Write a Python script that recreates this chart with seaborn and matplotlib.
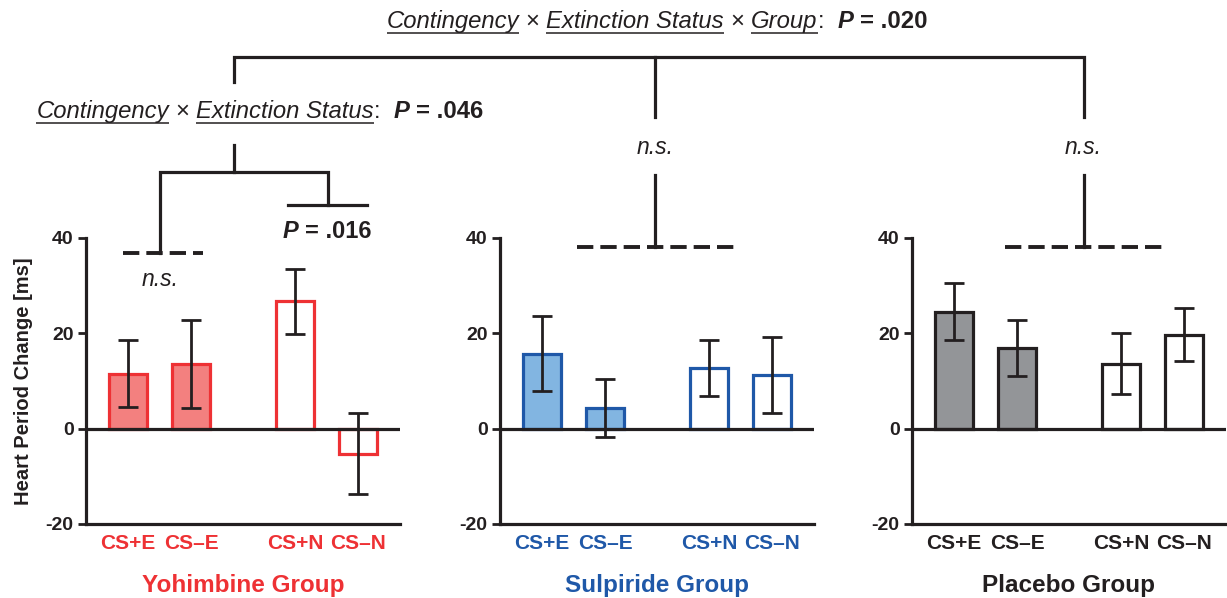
import pandas as pd
import seaborn as sns
import matplotlib.pyplot as plt

# 1. Estilo e dados
sns.set_theme(style="ticks")
plt.rcParams['font.family'] = ['Liberation Sans', 'DejaVu Sans']

DARK = "#231F20"

conds = ["CS+E", "CS–E", "CS+N", "CS–N"]
yoh_mean = [11.5, 13.6, 26.7, -5.3]
yoh_sem = [7.0, 9.3, 6.8, 8.5]
sul_mean = [15.7, 4.3, 12.8, 11.2]
sul_sem = [7.9, 6.1, 5.9, 8.0]
pla_mean = [24.5, 16.9, 13.6, 19.7]
pla_sem = [6.0, 5.9, 6.4, 5.6]
group_names = ["Yohimbine Group", "Sulpiride Group", "Placebo Group"]

# layout (posições das barras, com intervalo entre pares E / N)
bar_x = [0, 1, 2.65, 3.65]

W, H = 1227, 598
fig = plt.figure(figsize=(W / 100, H / 100), dpi=100)


def px_axes(left, right, top, bottom):
    return fig.add_axes([left / W, 1 - bottom / H, (right - left) / W, (bottom - top) / H])


paineis = [
    (group_names[0], yoh_mean, yoh_sem, "#EE3134", "#F3807F", "#EE3134", 86),
    (group_names[1], sul_mean, sul_sem, "#1F58A8", "#82B5E1", "#1F58A8", 500),
    (group_names[2], pla_mean, pla_sem, DARK, "#939598", DARK, 912),
]

# 2. Painéis de barras
for i, (nome, media, erro, borda, preench, cor_txt, esq) in enumerate(paineis):
    ax = px_axes(esq, esq + 314, 238, 524)
    df = pd.DataFrame({"pos": bar_x, "cond": conds, "media": media})
    pal = {conds[0]: preench, conds[1]: preench, conds[2]: "white", conds[3]: "white"}
    sns.barplot(data=df, x="pos", y="media", hue="cond", palette=pal, native_scale=True,
                dodge=False, width=0.6, edgecolor=borda, linewidth=2.3, errorbar=None,
                saturation=1, legend=False, ax=ax, zorder=2)
    ax.errorbar(bar_x, media, yerr=erro, fmt='none', ecolor=DARK, elinewidth=2,
                capsize=7, capthick=2, zorder=4)
    ax.axhline(0, color=DARK, lw=2.3, zorder=5)
    ax.set_xlim(-0.667, 4.32)
    ax.set_ylim(-20, 40)
    ax.set_xticks(bar_x)
    ax.set_xticklabels(conds, color=cor_txt, fontweight='bold', fontsize=15)
    ax.set_yticks([-20, 0, 20, 40])
    ax.set_yticklabels(["-20", "0", "20", "40"], fontweight='bold', fontsize=14, color=DARK)
    ax.tick_params(axis='x', length=0, pad=7)
    ax.tick_params(axis='y', length=6, width=2, color=DARK, pad=3)
    sns.despine(ax=ax)
    for s in ["left", "bottom"]:
        ax.spines[s].set_linewidth(2.3)
        ax.spines[s].set_color(DARK)
    ax.set_xlabel(nome, color=cor_txt, fontweight='bold', fontsize=17.5, labelpad=15)
    if i == 0:
        ax.set_ylabel("Heart Period Change [ms]", fontweight='bold', fontsize=14.5,
                      color=DARK, labelpad=9)
    else:
        ax.set_ylabel("")
    ax.patch.set_alpha(0)

# 3. Camada de anotações (coordenadas em pixels)
ov = fig.add_axes([0, 0, 1, 1], zorder=10)
ov.set_xlim(0, W)
ov.set_ylim(H, 0)
ov.axis("off")
ov.patch.set_alpha(0)

lw = 2.3
solida = dict(color=DARK, lw=lw, solid_capstyle='projecting', solid_joinstyle='miter')
tracejada = dict(color=DARK, lw=2.8, linestyle=(0, (4.2, 1.8)), dash_capstyle='butt')

ov.plot([234, 234, 1084, 1084], [82, 57, 57, 117], **solida)
ov.plot([655, 655], [57, 117], **solida)
ov.plot([655, 655], [175, 247], **solida)
ov.plot([1084, 1084], [175, 247], **solida)
ov.plot([577, 735], [247, 247], **tracejada)
ov.plot([1005, 1163], [247, 247], **tracejada)

ov.plot([234, 234], [145, 172], **solida)
ov.plot([160, 160, 328, 328], [253, 172, 172, 205], **solida)
ov.plot([288, 367], [205, 205], **solida)
ov.plot([123, 203], [253, 253], **tracejada)

for x, y in [(655, 148), (1083, 148), (160, 280)]:
    ov.text(x, y, "n.s.", fontsize=16.5, fontstyle='italic', ha='center', va='center', color=DARK)

render = fig.canvas.get_renderer()


def texto_rico(xc, y, partes, tam):
    tam_px = tam * fig.dpi / 72
    cursor = 0
    colocados = []
    for p in partes:
        if isinstance(p, (int, float)):
            cursor += p * tam_px
            continue
        txt, estilo, peso, sub = p
        t = ov.text(0, y, txt, fontsize=tam, fontstyle=estilo, fontweight=peso,
                    ha='left', va='baseline', color=DARK)
        w = t.get_window_extent(renderer=render).width
        colocados.append((t, cursor, w, sub))
        cursor += w
    x0 = xc - cursor / 2
    for t, off, w, sub in colocados:
        t.set_x(x0 + off)
        if sub:
            ov.plot([x0 + off, x0 + off + w], [y + 0.2 * tam_px] * 2, color=DARK, lw=1.1,
                    solid_capstyle='butt')


ESP = 0.278
texto_rico(657, 28, [("Contingency", 'italic', 'normal', True), ESP, ("×", 'normal', 'normal', False), ESP,
                     ("Extinction Status", 'italic', 'normal', True), ESP, ("×", 'normal', 'normal', False), ESP,
                     ("Group", 'italic', 'normal', True), (":", 'normal', 'normal', False), 2 * ESP,
                     ("P", 'italic', 'bold', False), ESP, ("= .020", 'normal', 'bold', False)], 17.2)
texto_rico(260, 118, [("Contingency", 'italic', 'normal', True), ESP, ("×", 'normal', 'normal', False), ESP,
                      ("Extinction Status", 'italic', 'normal', True), (":", 'normal', 'normal', False), 2 * ESP,
                      ("P", 'italic', 'bold', False), ESP, ("= .046", 'normal', 'bold', False)], 17.2)
texto_rico(327, 238, [("P", 'italic', 'bold', False), ESP, ("= .016", 'normal', 'bold', False)], 17)

fig.savefig("out.png", dpi=100)
